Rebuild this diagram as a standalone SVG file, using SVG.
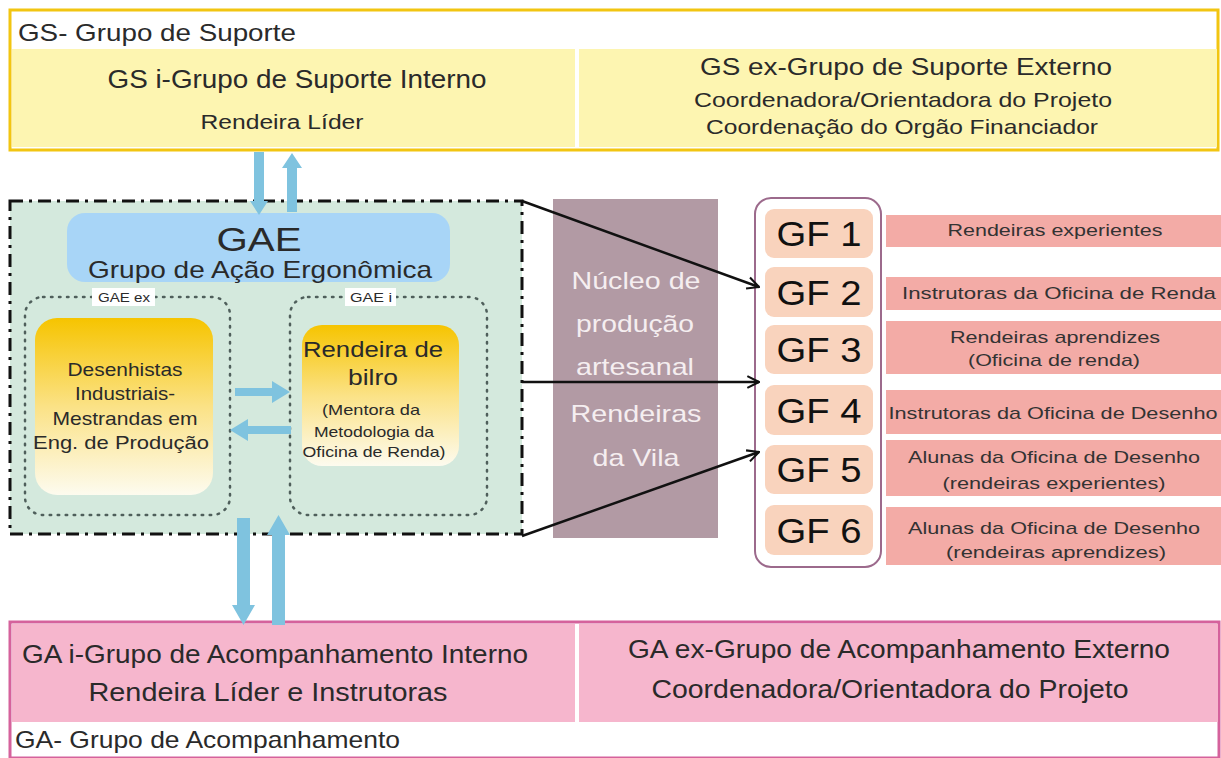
<svg xmlns="http://www.w3.org/2000/svg" width="1221" height="758" viewBox="0 0 1221 758">
<defs>
<style>
text{font-family:"Liberation Sans",Arial,sans-serif;fill:#2a2a2a}
.c{text-anchor:middle}
.barrow{fill:#7fc3df}
.conn{stroke:#111;stroke-width:2.5;fill:none;marker-end:url(#open)}
.dot{fill:none;stroke:#4f5f5b;stroke-width:2.5;stroke-dasharray:1.5 6.5;stroke-linecap:round}
.gf{fill:#f9d3bd}
.gft{font-size:35px;text-anchor:middle;fill:#111}
.bar{fill:#f3aba6}
.bt{font-size:17px;text-anchor:middle;fill:#333}
.mv{font-size:24px;text-anchor:middle;fill:#f5eef0}
</style>
<linearGradient id="yg" x1="0" y1="0" x2="0" y2="1">
<stop offset="0" stop-color="#f6c400"/>
<stop offset="0.5" stop-color="#fbe286"/>
<stop offset="1" stop-color="#fdfbef"/>
</linearGradient>
<marker id="open" viewBox="0 0 12 12" refX="11" refY="6" markerWidth="14" markerHeight="14" markerUnits="userSpaceOnUse" orient="auto">
<path d="M1,1 L11,6 L1,11" fill="none" stroke="#111" stroke-width="1.8"/>
</marker>
</defs>
<rect width="1221" height="758" fill="#fff"/>

<g id="GS">
<rect x="10" y="10" width="1208" height="140" fill="#fff" stroke="#f2c511" stroke-width="3"/>
<rect x="12" y="49" width="1205" height="98" fill="#fdf5b1"/>
<rect x="575" y="49" width="4" height="98" fill="#fff"/>
<text x="18" y="41" font-size="24" textLength="278" lengthAdjust="spacingAndGlyphs">GS- Grupo de Suporte</text>
<text class="c" x="297" y="88" font-size="25" textLength="379" lengthAdjust="spacingAndGlyphs">GS i-Grupo de Suporte Interno</text>
<text class="c" x="282" y="129" font-size="20" textLength="163" lengthAdjust="spacingAndGlyphs">Rendeira Líder</text>
<text class="c" x="906" y="75" font-size="24" textLength="412" lengthAdjust="spacingAndGlyphs">GS ex-Grupo de Suporte Externo</text>
<text class="c" x="903" y="107" font-size="21" textLength="418" lengthAdjust="spacingAndGlyphs">Coordenadora/Orientadora do Projeto</text>
<text class="c" x="902" y="134" font-size="21" textLength="392" lengthAdjust="spacingAndGlyphs">Coordenação do Orgão Financiador</text>
</g>

<g id="GAE">
<rect x="10" y="201" width="512" height="333" fill="#d4e9dd" stroke="#111" stroke-width="3" stroke-dasharray="13 6 3 6"/>
<rect x="67" y="213" width="383" height="69" rx="18" fill="#a8d5f7"/>
<text class="c" x="259" y="251" font-size="33" textLength="85" lengthAdjust="spacingAndGlyphs" fill="#111">GAE</text>
<text class="c" x="260" y="278" font-size="24" textLength="344" lengthAdjust="spacingAndGlyphs">Grupo de Ação Ergonômica</text>
</g>

<g id="GAEex">
<rect x="25" y="297" width="205" height="218" rx="18" class="dot"/>
<rect x="92" y="288" width="63" height="18" fill="#fff"/>
<text class="c" x="124" y="302" font-size="13" textLength="52" lengthAdjust="spacingAndGlyphs" fill="#333">GAE ex</text>
<rect x="35" y="318" width="178" height="177" rx="22" fill="url(#yg)"/>
<text class="c" x="125" y="376" font-size="19" textLength="115" lengthAdjust="spacingAndGlyphs" fill="#333">Desenhistas</text>
<text class="c" x="125" y="400" font-size="19" textLength="100" lengthAdjust="spacingAndGlyphs" fill="#333">Industriais-</text>
<text class="c" x="125" y="425" font-size="19" textLength="145" lengthAdjust="spacingAndGlyphs" fill="#333">Mestrandas em</text>
<text class="c" x="121" y="449" font-size="19" textLength="176" lengthAdjust="spacingAndGlyphs" fill="#333">Eng. de Produção</text>
</g>

<g id="GAEi">
<rect x="290" y="297" width="197" height="218" rx="18" class="dot"/>
<rect x="345" y="288" width="51" height="18" fill="#fff"/>
<text class="c" x="371" y="302" font-size="13" textLength="42" lengthAdjust="spacingAndGlyphs" fill="#333">GAE i</text>
<rect x="302" y="325" width="157" height="141" rx="20" fill="url(#yg)"/>
<text class="c" x="373" y="357" font-size="22" textLength="140" lengthAdjust="spacingAndGlyphs" fill="#222">Rendeira de</text>
<text class="c" x="373" y="385" font-size="22" textLength="50" lengthAdjust="spacingAndGlyphs" fill="#222">bilro</text>
<text class="c" x="371" y="415" font-size="14.5" textLength="98" lengthAdjust="spacingAndGlyphs" fill="#333">(Mentora da</text>
<text class="c" x="374" y="437" font-size="14.5" textLength="120" lengthAdjust="spacingAndGlyphs" fill="#333">Metodologia da</text>
<text class="c" x="374" y="457" font-size="14.5" textLength="143" lengthAdjust="spacingAndGlyphs" fill="#333">Oficina de Renda)</text>
</g>

<g id="nucleo">
<rect x="553" y="199" width="165" height="339" fill="#b29aa4"/>
<text class="mv" x="636" y="289" textLength="129" lengthAdjust="spacingAndGlyphs">Núcleo de</text>
<text class="mv" x="635" y="332" textLength="118" lengthAdjust="spacingAndGlyphs">produção</text>
<text class="mv" x="635" y="375" textLength="118" lengthAdjust="spacingAndGlyphs">artesanal</text>
<text class="mv" x="636" y="422" textLength="131" lengthAdjust="spacingAndGlyphs">Rendeiras</text>
<text class="mv" x="636" y="466" textLength="87" lengthAdjust="spacingAndGlyphs">da Vila</text>
</g>

<g id="GF">
<rect x="755" y="198" width="126" height="369" rx="16" fill="#fff" stroke="#9c6a8c" stroke-width="2"/>
<rect class="gf" x="765" y="209" width="108" height="49" rx="9"/>
<text class="gft" x="819" y="246" textLength="85" lengthAdjust="spacingAndGlyphs">GF 1</text>
<rect class="gf" x="765" y="267" width="108" height="50" rx="9"/>
<text class="gft" x="819" y="305" textLength="85" lengthAdjust="spacingAndGlyphs">GF 2</text>
<rect class="gf" x="765" y="325" width="108" height="49" rx="9"/>
<text class="gft" x="819" y="362" textLength="85" lengthAdjust="spacingAndGlyphs">GF 3</text>
<rect class="gf" x="765" y="385" width="108" height="50" rx="9"/>
<text class="gft" x="819" y="423" textLength="85" lengthAdjust="spacingAndGlyphs">GF 4</text>
<rect class="gf" x="765" y="445" width="108" height="49" rx="9"/>
<text class="gft" x="819" y="482" textLength="85" lengthAdjust="spacingAndGlyphs">GF 5</text>
<rect class="gf" x="765" y="505" width="108" height="50" rx="9"/>
<text class="gft" x="819" y="543" textLength="85" lengthAdjust="spacingAndGlyphs">GF 6</text>
</g>

<g id="GFdesc">
<rect class="bar" x="886" y="215" width="335" height="32"/>
<text class="bt" x="1055" y="236" textLength="215" lengthAdjust="spacingAndGlyphs">Rendeiras experientes</text>
<rect class="bar" x="886" y="277" width="335" height="33"/>
<text class="bt" x="1059" y="299" textLength="314" lengthAdjust="spacingAndGlyphs">Instrutoras da Oficina de Renda</text>
<rect class="bar" x="886" y="321" width="335" height="53"/>
<text class="bt" x="1055" y="343" textLength="210" lengthAdjust="spacingAndGlyphs">Rendeiras aprendizes</text>
<text class="bt" x="1054" y="366" textLength="172" lengthAdjust="spacingAndGlyphs">(Oficina de renda)</text>
<rect class="bar" x="886" y="390" width="335" height="44"/>
<text class="bt" x="1053" y="419" textLength="329" lengthAdjust="spacingAndGlyphs">Instrutoras da Oficina de Desenho</text>
<rect class="bar" x="886" y="440" width="335" height="56"/>
<text class="bt" x="1054" y="463" textLength="292" lengthAdjust="spacingAndGlyphs">Alunas da Oficina de Desenho</text>
<text class="bt" x="1054" y="489" textLength="223" lengthAdjust="spacingAndGlyphs">(rendeiras experientes)</text>
<rect class="bar" x="886" y="507" width="335" height="58"/>
<text class="bt" x="1054" y="534" textLength="292" lengthAdjust="spacingAndGlyphs">Alunas da Oficina de Desenho</text>
<text class="bt" x="1056" y="558" textLength="220" lengthAdjust="spacingAndGlyphs">(rendeiras aprendizes)</text>
</g>

<g id="GA">
<rect x="10" y="622" width="1209" height="136" fill="#fff" stroke="#d5629c" stroke-width="3"/>
<rect x="12" y="624" width="1206" height="98" fill="#f6b6cd"/>
<rect x="575" y="624" width="4" height="98" fill="#fff"/>
<text class="c" x="275" y="663" font-size="25" textLength="506" lengthAdjust="spacingAndGlyphs">GA i-Grupo de Acompanhamento Interno</text>
<text class="c" x="268" y="701" font-size="25" textLength="359" lengthAdjust="spacingAndGlyphs">Rendeira Líder e Instrutoras</text>
<text class="c" x="899" y="658" font-size="25" textLength="542" lengthAdjust="spacingAndGlyphs">GA ex-Grupo de Acompanhamento Externo</text>
<text class="c" x="890" y="698" font-size="25" textLength="477" lengthAdjust="spacingAndGlyphs">Coordenadora/Orientadora do Projeto</text>
<text x="15" y="748" font-size="24" textLength="385" lengthAdjust="spacingAndGlyphs">GA- Grupo de Acompanhamento</text>
</g>

<g id="connectors">
<polygon class="barrow" points="254,152 264,152 264,201 268,201 259,215 250,201 254,201"/>
<polygon class="barrow" points="287,212 297,212 297,168 302,168 292,153 282,168 287,168"/>
<polygon class="barrow" points="237,518 250,518 250,605 255,605 243.5,625 232,605 237,605"/>
<polygon class="barrow" points="272,625 285,625 285,535 290,535 278.5,515 267,535 272,535"/>
<polygon class="barrow" points="235,388 272,388 272,381 290,392 272,403 272,396 235,396"/>
<polygon class="barrow" points="291,426 248,426 248,419 230,430 248,441 248,434 291,434"/>
<line class="conn" x1="522" y1="201" x2="759" y2="287"/>
<line class="conn" x1="522" y1="382" x2="759" y2="382"/>
<line class="conn" x1="522" y1="536" x2="759" y2="452"/>
</g>
</svg>
